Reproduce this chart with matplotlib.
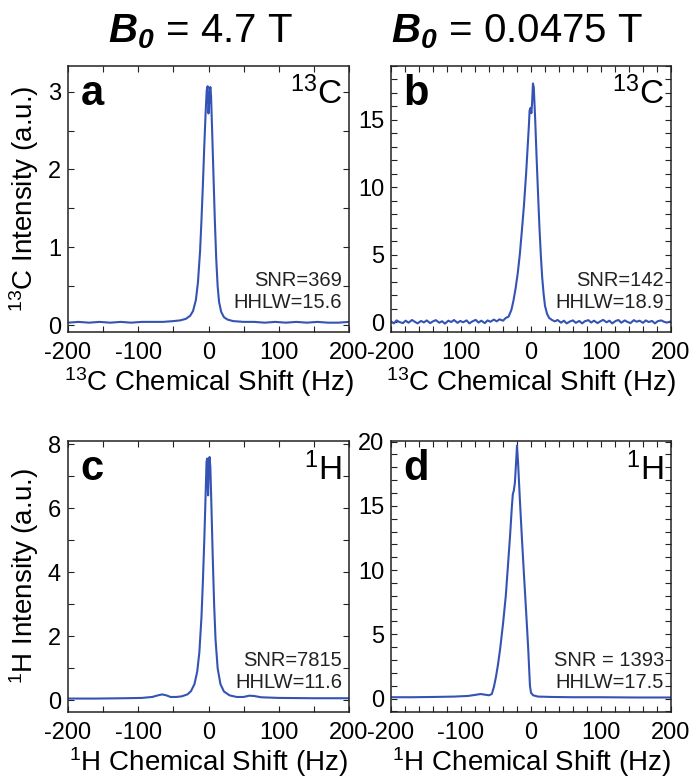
import matplotlib
matplotlib.use('Agg')
import matplotlib.pyplot as plt
from matplotlib.ticker import FixedLocator, MultipleLocator, FixedFormatter

plt.rcParams['font.family'] = ['Liberation Sans', 'DejaVu Sans']
plt.rcParams['mathtext.fontset'] = 'custom'
plt.rcParams['mathtext.rm'] = 'Liberation Sans'
plt.rcParams['mathtext.it'] = 'Liberation Sans:italic'
plt.rcParams['mathtext.bf'] = 'Liberation Sans:bold'
plt.rcParams['mathtext.bfit'] = 'Liberation Sans:italic:bold'

# ---------------- data ----------------
titles = [r'$\mathbfit{B}_{\mathbfit{0}}$ = 4.7 T', r'$\mathbfit{B}_{\mathbfit{0}}$ = 0.0475 T']
panel_letters = ['a', 'b', 'c', 'd']
nuclei = [r'$^{13}$C', r'$^{13}$C', r'$^{1}$H', r'$^{1}$H']
snr_text = ['SNR=369\nHHLW=15.6', 'SNR=142\nHHLW=18.9',
            'SNR=7815\nHHLW=11.6', 'SNR = 1393\nHHLW=17.5']
x_ticks = [-200, -100, 0, 100, 200]
x_labels_abd = ['-200', '-100', '0', '100', '200']
x_labels_b = ['-200', '100', '0', '100', '200']

# panel a: 13C, 4.7 T
a_shift = [-200, -185, -170, -155, -140, -125, -110, -95, -80, -65, -50, -40, -32,
           -26, -22, -18, -15, -12, -10, -8, -6, -4, -2.5, -1.2, 0, 1.2, 2.6, 3.6,
           5, 7, 9, 11, 13, 15, 18, 22, 27, 35, 50, 65, 80, 95, 110, 125, 140,
           155, 170, 185, 200]
a_int = [0.03, 0.04, 0.03, 0.04, 0.03, 0.04, 0.03, 0.04, 0.04, 0.04, 0.05, 0.06, 0.08,
         0.12, 0.18, 0.32, 0.55, 0.95, 1.35, 1.8, 2.3, 2.75, 3.02, 3.07, 2.72, 2.9, 3.06, 2.95,
         2.55, 1.95, 1.35, 0.85, 0.5, 0.3, 0.17, 0.1, 0.07, 0.05, 0.04, 0.04, 0.03, 0.04, 0.03,
         0.04, 0.03, 0.04, 0.03, 0.03, 0.04]

# panel b: 13C, 0.0475 T
b_shift = [-200, -196, -192, -188, -183, -179, -175, -170, -166, -162, -157, -153, -149,
           -144, -140, -136, -131, -127, -123, -118, -114, -110, -105, -101, -97, -92,
           -88, -84, -79, -75, -71, -66, -62, -58, -53, -49, -45, -40, -36, -32,
           -28, -25, -22, -19, -16, -13, -10, -7, -5, -3, -2, -0.5, 0.5, 1.5, 2.8, 4,
           6, 8, 10, 12, 14, 16, 18, 20, 23, 26, 30, 34, 38, 43, 47, 51, 56, 60, 64,
           69, 73, 77, 82, 86, 90, 95, 99, 103, 108, 112, 116, 121, 125, 129, 134, 138,
           142, 147, 151, 155, 160, 164, 168, 173, 177, 181, 186, 190, 194, 200]
b_int = [0.05, -0.1, 0.12, 0.0, -0.08, 0.1, -0.05, 0.15, 0.02, -0.1, 0.08, -0.03, 0.12,
         -0.08, 0.05, 0.14, -0.05, 0.06, -0.12, 0.1, 0.0, 0.15, -0.06, 0.08, -0.02, 0.12,
         -0.1, 0.04, 0.16, -0.04, 0.1, -0.08, 0.12, 0.02, 0.18, 0.05, 0.2, 0.1, 0.3, 0.4,
         0.9, 1.6, 2.5, 3.6, 5.0, 6.8, 8.7, 11.0, 12.8, 14.6, 15.7, 15.9, 15.5, 16.2, 17.7,
         17.4, 15.0, 12.2, 9.6, 7.1, 5.0, 3.3, 2.1, 1.2, 0.6, 0.3, 0.15, 0.05, 0.15, -0.05,
         0.1, -0.1, 0.05, 0.12, -0.06, 0.08, -0.1, 0.06, 0.14, -0.04, 0.1, -0.08, 0.05,
         0.16, -0.02, 0.1, -0.1, 0.08, 0.15, -0.05, 0.12, 0.0, -0.08, 0.14, 0.02, 0.1,
         -0.06, 0.12, 0.0, 0.08, -0.1, 0.06, 0.12, 0.02, -0.04, 0.05]

# panel c: 1H, 4.7 T
c_shift = [-200, -160, -120, -95, -80, -72, -66, -60, -54, -46, -38, -30, -25, -20,
           -16, -13, -10, -8, -6, -4, -2.8, -1.8, -0.6, 0.4, 1.5, 2.6, 4, 6, 8, 10,
           13, 17, 22, 30, 40, 50, 58, 65, 75, 100, 150, 200]
c_int = [0.05, 0.05, 0.06, 0.07, 0.1, 0.15, 0.18, 0.15, 0.1, 0.1, 0.12, 0.18, 0.28, 0.5,
         0.9, 1.5, 2.6, 3.7, 5.0, 6.5, 7.45, 7.55, 6.4, 7.2, 7.6, 7.3, 6.2, 4.5, 3.0, 1.9,
         1.0, 0.5, 0.27, 0.15, 0.1, 0.1, 0.14, 0.13, 0.09, 0.07, 0.06, 0.06]

# panel d: 1H, 0.0475 T
d_shift = [-200, -170, -140, -110, -90, -80, -72, -66, -60, -56, -53, -50, -47, -44,
           -40, -36, -33, -30, -27.5, -26, -24.5, -23, -21.5, -20, -18.5, -16, -13,
           -10, -7, -4, -1.5, 0, 3, 10, 30, 60, 100, 150, 200]
d_int = [0.1, 0.1, 0.12, 0.15, 0.2, 0.28, 0.35, 0.3, 0.25, 0.35, 0.9, 1.7, 2.7, 3.9,
         5.8, 8.0, 10.3, 12.6, 14.8, 15.9, 16.2, 16.8, 18.2, 19.7, 18.4, 15.6, 12.5,
         9.6, 6.8, 3.9, 1.0, 0.45, 0.25, 0.15, 0.12, 0.1, 0.1, 0.08, 0.08]

line_color = '#3453b5'

fig = plt.figure(figsize=(6.9, 7.81), dpi=100)
W, H = 690.0, 781.0

def add_ax(l, t, r, b):
    return fig.add_axes([l / W, (H - b) / H, (r - l) / W, (b - t) / H])

ax_a = add_ax(68, 66, 349, 332)
ax_b = add_ax(391, 66, 671, 332)
ax_c = add_ax(68, 441, 349, 712)
ax_d = add_ax(391, 441, 671, 712)

axes = [ax_a, ax_b, ax_c, ax_d]
datas = [(a_shift, a_int), (b_shift, b_int), (c_shift, c_int), (d_shift, d_int)]
ylims = [(-0.09, 3.33), (-0.74, 19.0), (-0.37, 8.1), (-1.05, 20.05)]
ymaj = [[0, 1, 2, 3], [0, 5, 10, 15], [0, 2, 4, 6, 8], [0, 5, 10, 15, 20]]
ymin = [0.5, 1, 1, 1]
xmin = [50, 20, 50, 20]
xlabels = [x_labels_abd, x_labels_b, x_labels_abd, x_labels_abd]

for i, ax in enumerate(axes):
    xs, ys = datas[i]
    ax.plot(xs, ys, color=line_color, lw=1.5)
    ax.set_xlim(-200, 200)
    ax.set_ylim(*ylims[i])
    ax.xaxis.set_major_locator(FixedLocator(x_ticks))
    ax.xaxis.set_major_formatter(FixedFormatter(xlabels[i]))
    ax.xaxis.set_minor_locator(MultipleLocator(xmin[i]))
    ax.yaxis.set_major_locator(FixedLocator(ymaj[i]))
    ax.yaxis.set_minor_locator(MultipleLocator(ymin[i]))
    ax.tick_params(which='both', direction='in', top=True, right=True,
                   length=4, width=0.8, color='#222222')
    ax.tick_params(axis='x', which='major', labelsize=17, pad=7)
    ax.tick_params(axis='y', which='major', labelsize=17, pad=5)
    for s in ax.spines.values():
        s.set_linewidth(1.1)
        s.set_color('#222222')
    ax.text(0.045, 0.855, panel_letters[i], transform=ax.transAxes,
            fontsize=30, fontweight='bold', va='baseline', ha='left')
    ax.text(0.975, 0.855, nuclei[i], transform=ax.transAxes,
            fontsize=24, va='baseline', ha='right')
    ax.text(0.975, 0.09, snr_text[i], transform=ax.transAxes,
            fontsize=14.5, va='baseline', ha='right', linespacing=1.2, color='#222222')

ax_a.set_xlabel(r'$^{13}$C Chemical Shift (Hz)', fontsize=20, labelpad=1)
ax_b.set_xlabel(r'$^{13}$C Chemical Shift (Hz)', fontsize=20, labelpad=1)
ax_c.set_xlabel(r'$^{1}$H Chemical Shift (Hz)', fontsize=20, labelpad=1)
ax_d.set_xlabel(r'$^{1}$H Chemical Shift (Hz)', fontsize=20, labelpad=1)
ax_a.set_ylabel(r'$^{13}$C Intensity (a.u.)', fontsize=20, labelpad=5)
ax_c.set_ylabel(r'$^{1}$H Intensity (a.u.)', fontsize=20, labelpad=5)

fig.text(200 / W, 1 - 32 / H, titles[0], ha='center', va='center', fontsize=29)
fig.text(517 / W, 1 - 32 / H, titles[1], ha='center', va='center', fontsize=29)

fig.savefig('out.png', dpi=100)
